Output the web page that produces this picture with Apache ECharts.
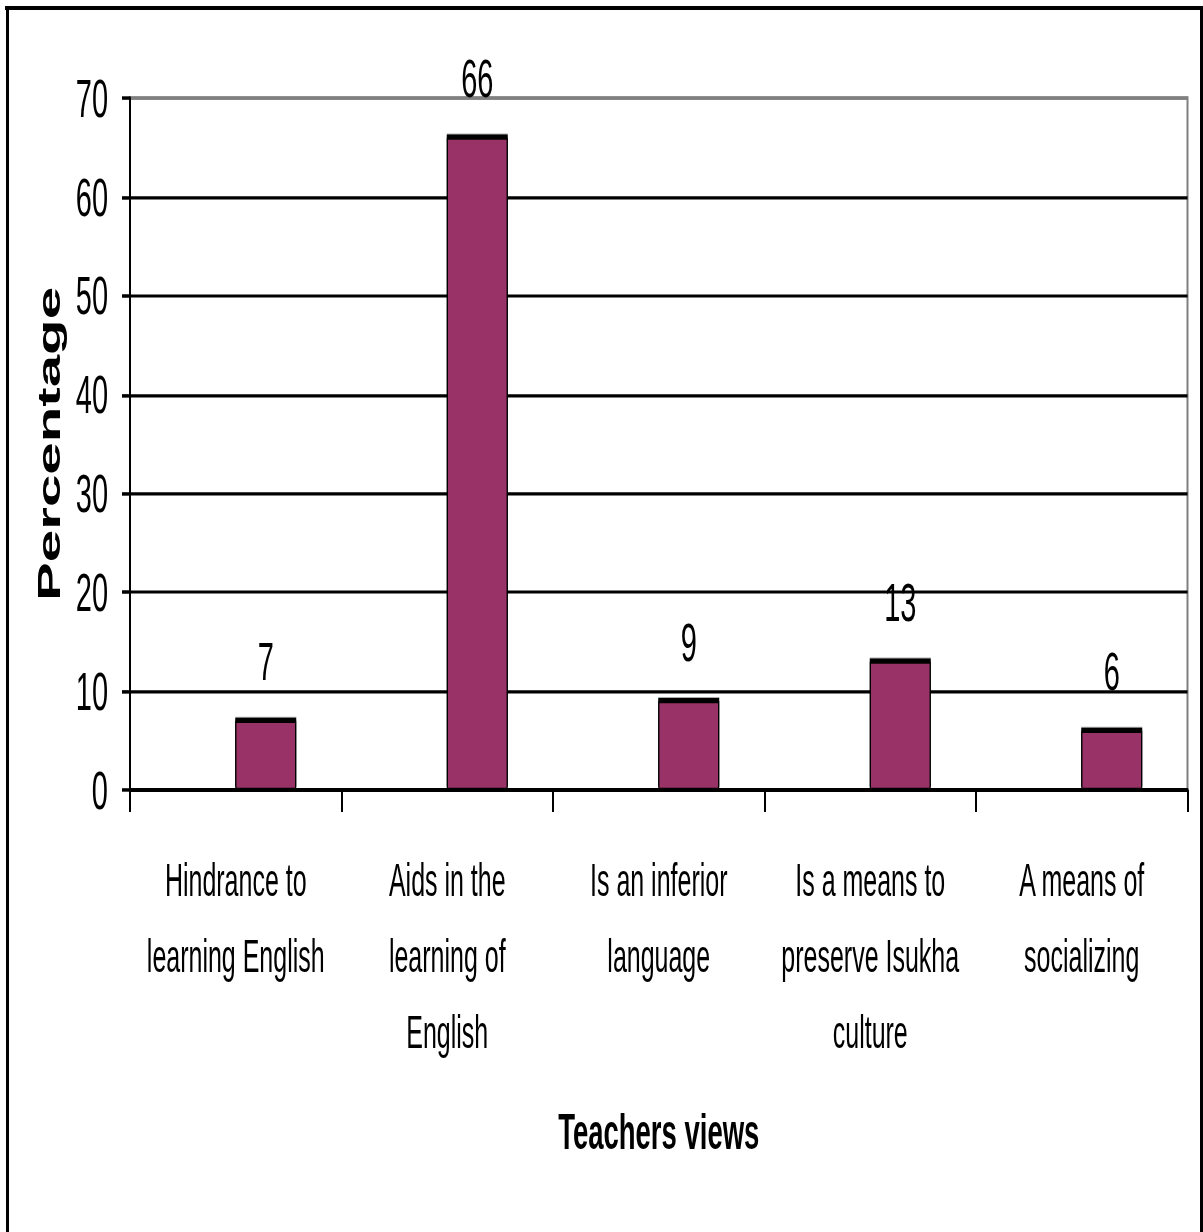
<!DOCTYPE html>
<html><head><meta charset="utf-8">
<script src="https://cdn.jsdelivr.net/npm/echarts@6/dist/echarts.min.js"></script>
<style>
html,body{margin:0;padding:0;background:#fff;overflow:hidden}
#wrap{width:1203px;height:1232px;overflow:hidden;position:relative;background:#fff}
#c{position:absolute;left:0;top:0;transform-origin:0 0}
</style>
</head><body><div id="wrap"><div id="c"></div></div>
<script>
// ---- data ----
const categories = [
  'Hindrance to\nlearning English',
  'Aids in the\nlearning of\nEnglish',
  'Is an inferior\nlanguage',
  'Is a means to\npreserve Isukha\nculture',
  'A means of\nsocializing'
];
const percentages = [7, 66, 9, 13, 6];
const yMin = 0, yMax = 70, yInterval = 10;
const xAxisTitle = 'Teachers views';
const yAxisTitle = 'Percentage';

// ---- layout (the original picture is stretched vertically) ----
const K = 1.85;
const W = 1203, H = 1232;
const CW = 1250;           // drawing surface a little wider than the window (clipped)
const Hu = H / K;
const v = px => px / K;
const el = document.getElementById('c');
el.style.width = CW + 'px';
el.style.height = Hu + 'px';
el.style.transform = 'scaleY(' + K + ')';
const chart = echarts.init(el, null, {renderer: 'svg', width: CW, height: Hu});

const sans = "'Liberation Sans', Arial, sans-serif";

const splitColors = [];
for (let t = yMin; t <= yMax; t += yInterval) splitColors.push(t === yMax ? '#808080' : '#000000');

const gridLeft = 130, gridWidth = 1057.5;
const gridTop = v(98), gridBottom = v(H - 790);
const barShift = 30; // bars sit right of the category centres in the original

chart.setOption({
  animation: false,
  backgroundColor: '#ffffff',
  grid: [
    {left: gridLeft, width: gridWidth, top: gridTop, bottom: gridBottom,
     show: true, borderColor: '#808080', borderWidth: 2, backgroundColor: 'transparent'},
    {left: gridLeft + barShift, width: gridWidth, top: gridTop, bottom: gridBottom, show: false}
  ],
  xAxis: [{
    type: 'category',
    gridIndex: 0,
    data: categories,
    axisLine: {lineStyle: {color: '#000', width: v(4)}},
    axisTick: {show: true, length: v(22), lineStyle: {color: '#000', width: 2}},
    axisLabel: {
      interval: 0, color: '#000', fontFamily: sans, fontSize: 25,
      lineHeight: v(76), margin: 28.1
    },
    name: xAxisTitle,
    nameLocation: 'middle',
    nameGap: 170.5,
    nameTextStyle: {color: '#000', fontFamily: sans, fontWeight: 'bold', fontSize: 27.5}
  }, {
    type: 'category',
    gridIndex: 1,
    data: categories,
    show: false
  }],
  yAxis: [{
    type: 'value',
    gridIndex: 0,
    min: yMin, max: yMax, interval: yInterval,
    axisLine: {show: true, lineStyle: {color: '#000', width: 2}},
    axisTick: {show: true, length: 8, lineStyle: {color: '#000', width: v(3.5)}},
    axisLabel: {color: '#000', fontFamily: sans, fontSize: 29, margin: 22},
    splitLine: {show: true, lineStyle: {color: splitColors, width: v(3.2)}},
    name: yAxisTitle,
    nameLocation: 'middle',
    nameGap: 64,
    nameTextStyle: {color: '#000', fontFamily: sans, fontWeight: 'bold', fontSize: 31.5}
  }, {
    type: 'value',
    gridIndex: 1,
    min: yMin, max: yMax, interval: yInterval,
    show: false,
    splitLine: {show: false}
  }],
  series: [{
    type: 'bar',
    xAxisIndex: 1,
    yAxisIndex: 1,
    data: percentages,
    barWidth: 61,
    itemStyle: {
      color: '#993366', borderColor: '#000', borderWidth: 1.2,
      shadowColor: '#000', shadowBlur: 0, shadowOffsetY: -1.8, shadowOffsetX: 0
    },
    label: {
      show: true, position: 'top', distance: 17.5,
      color: '#000', fontFamily: sans, fontSize: 29
    }
  }],
  graphic: [
    {type: 'line', silent: true, shape: {x1: 5, y1: v(8), x2: W, y2: v(8)}, style: {stroke: '#000', lineWidth: v(4)}},
    {type: 'line', silent: true, shape: {x1: 7.5, y1: v(6), x2: 7.5, y2: Hu}, style: {stroke: '#000', lineWidth: 3}},
    {type: 'line', silent: true, shape: {x1: 1201.5, y1: v(6), x2: 1201.5, y2: Hu}, style: {stroke: '#000', lineWidth: 3}}
  ]
});
</script>
</body></html>
